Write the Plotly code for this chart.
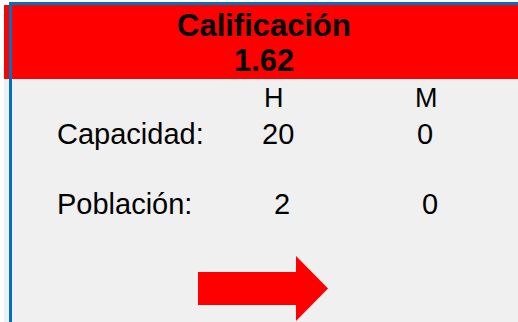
import plotly.graph_objects as go

# ---- data ----
titulo = "Calificación"
calificacion = [1.62]
columnas = ["H", "M"]
filas = ["Capacidad:", "Población:"]
capacidad = [20, 0]
poblacion = [2, 0]

# ---- layout / style ----
W, H = 518, 322
RED = "#ff0000"
GREY = "#f0f0f0"
BLUE = "#0070c0"
FONT = "Arial, Liberation Sans, sans-serif"

col_x_header = [273.5, 426.5]
col_x_rows = [[278, 424.5], [282, 429.5]]
row_y = [134, 204]
header_y = 98

fig = go.Figure()
fig.add_trace(go.Scatter(x=[0], y=[0], mode="markers", marker=dict(opacity=0), hoverinfo="skip", showlegend=False))

shapes = [
    dict(type="rect", x0=4, x1=W, y0=79, y1=H, fillcolor=GREY, line_width=0, layer="below"),
    dict(type="rect", x0=4, x1=W, y0=5, y1=79, fillcolor=RED, line_width=0, layer="below"),
    dict(type="rect", x0=9, x1=W, y0=2, y1=5, fillcolor=BLUE, line_width=0, layer="below"),
    dict(type="rect", x0=9, x1=12, y0=2, y1=H, fillcolor=BLUE, line_width=0, layer="below"),
    dict(type="path", path="M 198 272 L 296 272 L 296 256 L 328 288.5 L 296 321 L 296 305 L 198 305 Z",
         fillcolor=RED, line_width=0, layer="above"),
]

ann = []
ann.append(dict(x=264, y=25, text="<b>%s</b>" % titulo, font=dict(family=FONT, size=31, color="black")))
ann.append(dict(x=263.5, y=60, text="<b>%.2f</b>" % calificacion[0], font=dict(family=FONT, size=31, color="black")))
for c, cx in zip(columnas, col_x_header):
    ann.append(dict(x=cx, y=header_y, text=c, font=dict(family=FONT, size=27, color="black")))
for i, (lab, vals) in enumerate(zip(filas, [capacidad, poblacion])):
    ann.append(dict(x=55, y=row_y[i], text=lab, xanchor="left", font=dict(family=FONT, size=29, color="black")))
    for v, cx in zip(vals, col_x_rows[i]):
        ann.append(dict(x=cx, y=row_y[i], text=str(v), font=dict(family=FONT, size=29, color="black")))
for a in ann:
    a.setdefault("xanchor", "center")
    a["yanchor"] = "middle"
    a["showarrow"] = False
    a["xref"] = "x"
    a["yref"] = "y"

fig.update_layout(
    width=W, height=H,
    margin=dict(l=0, r=0, t=0, b=0),
    paper_bgcolor="white", plot_bgcolor="white",
    xaxis=dict(range=[0, W], visible=False, fixedrange=True),
    yaxis=dict(range=[H, 0], visible=False, fixedrange=True),
    shapes=shapes, annotations=ann, showlegend=False,
)
fig.write_html("out.html", config={"displayModeBar": False},
               post_script="document.body.style.margin='0';document.body.style.overflow='hidden';")
